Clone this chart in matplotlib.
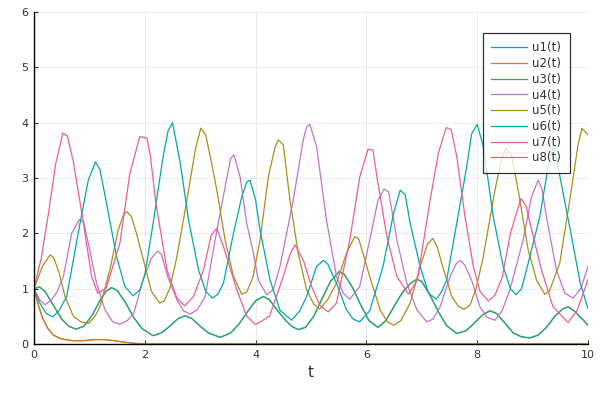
import numpy as np
import matplotlib
matplotlib.use("Agg")
import matplotlib.pyplot as plt

# colours of the Plots.jl default palette
colors = ["#009AFA", "#E36F47", "#3EA44E", "#C371D2",
          "#AC8E18", "#00A9AD", "#ED5E93", "#C68225"]
labels = ["u1(t)", "u2(t)", "u3(t)", "u4(t)", "u5(t)", "u6(t)", "u7(t)", "u8(t)"]

# u1 and u3 coincide (green over blue)
t_u1 = [0, 0.1, 0.2, 0.35, 0.5, 0.63, 0.76, 0.9, 1.05, 1.2, 1.3, 1.4, 1.5, 1.65, 1.8,
        1.95, 2.15, 2.3, 2.45, 2.6, 2.73, 2.85, 3.0, 3.15, 3.36, 3.55, 3.7, 3.85, 4.0,
        4.14, 4.25, 4.4, 4.55, 4.65, 4.77, 4.9, 5.05, 5.2, 5.35, 5.51, 5.6, 5.75, 5.9,
        6.05, 6.21, 6.35, 6.5, 6.65, 6.8, 6.91, 7.0, 7.15, 7.3, 7.45, 7.63, 7.8, 7.95,
        8.1, 8.23, 8.35, 8.5, 8.65, 8.8, 8.95, 9.1, 9.25, 9.4, 9.55, 9.64, 9.75, 9.9, 10]
u1 = [1.0, 1.03, 0.95, 0.7, 0.45, 0.32, 0.27, 0.32, 0.52, 0.8, 0.95, 1.02, 0.97, 0.75, 0.48,
      0.28, 0.15, 0.2, 0.32, 0.46, 0.51, 0.46, 0.32, 0.2, 0.12, 0.2, 0.36, 0.58, 0.78,
      0.86, 0.8, 0.6, 0.42, 0.32, 0.26, 0.3, 0.5, 0.82, 1.13, 1.31, 1.26, 1.02, 0.7,
      0.42, 0.3, 0.42, 0.68, 0.93, 1.1, 1.17, 1.13, 0.88, 0.58, 0.33, 0.19, 0.24, 0.38,
      0.53, 0.6, 0.55, 0.38, 0.2, 0.13, 0.11, 0.16, 0.3, 0.5, 0.64, 0.67, 0.6, 0.45, 0.34]

# u2 and u8 coincide
t_u2 = [0, 0.08, 0.15, 0.25, 0.35, 0.5, 0.7, 0.9, 1.1, 1.25, 1.45, 1.65, 1.85, 2.1, 10]
u2 = [1.0, 0.7, 0.48, 0.28, 0.16, 0.09, 0.06, 0.06, 0.08, 0.08, 0.06, 0.03, 0.01, 0.0, 0.0]

t_u4 = [0, 0.1, 0.2, 0.32, 0.42, 0.53, 0.68, 0.82, 0.9, 0.98, 1.13, 1.28, 1.42, 1.55,
        1.68, 1.8, 1.97, 2.12, 2.23, 2.3, 2.42, 2.58, 2.7, 2.82, 2.95, 3.09, 3.27, 3.45,
        3.55, 3.61, 3.72, 3.84, 3.95, 4.05, 4.2, 4.32, 4.44, 4.68, 4.86, 4.92, 4.98, 5.1,
        5.28, 5.46, 5.58, 5.7, 5.88, 6.06, 6.21, 6.32, 6.4, 6.48, 6.55, 6.73, 6.91, 7.09,
        7.2, 7.33, 7.51, 7.62, 7.7, 7.78, 7.9, 8.05, 8.18, 8.32, 8.45, 8.59, 8.83, 8.98,
        9.1, 9.17, 9.25, 9.43, 9.58, 9.73, 9.87, 10]
u4 = [1.0, 0.8, 0.71, 0.8, 0.95, 1.22, 2.0, 2.25, 2.2, 1.82, 1.1, 0.62, 0.4, 0.36,
      0.42, 0.55, 1.16, 1.55, 1.68, 1.62, 1.2, 0.8, 0.6, 0.54, 0.62, 0.86, 1.88, 2.84,
      3.35, 3.42, 3.02, 2.18, 1.7, 1.15, 0.89, 0.98, 1.4, 2.6, 3.69, 3.92, 3.97, 3.57,
      2.24, 1.22, 0.92, 0.81, 1.04, 1.88, 2.6, 2.8, 2.75, 2.3, 1.88, 1.1, 0.62, 0.4,
      0.45, 0.67, 1.22, 1.45, 1.51, 1.42, 1.15, 0.67, 0.48, 0.43, 0.6, 0.98, 1.88, 2.66,
      2.96, 2.8, 2.3, 1.34, 0.92, 0.83, 1.0, 1.4]

t_u5 = [0, 0.15, 0.29, 0.35, 0.45, 0.56, 0.71, 0.85, 0.98, 1.1, 1.19, 1.37, 1.52, 1.62,
        1.68, 1.76, 1.85, 1.98, 2.12, 2.27, 2.35, 2.45, 2.58, 2.76, 2.91, 3.01, 3.1, 3.2,
        3.3, 3.45, 3.6, 3.75, 3.84, 3.95, 4.08, 4.23, 4.35, 4.41, 4.5, 4.62, 4.77, 4.92,
        5.05, 5.16, 5.3, 5.46, 5.64, 5.79, 5.86, 5.95, 6.06, 6.25, 6.38, 6.49, 6.62, 6.79,
        6.97, 7.1, 7.2, 7.28, 7.36, 7.54, 7.66, 7.76, 7.87, 7.98, 8.11, 8.32, 8.43, 8.52,
        8.62, 8.74, 8.92, 9.07, 9.22, 9.3, 9.49, 9.68, 9.82, 9.89, 10]
u5 = [1.0, 1.4, 1.61, 1.57, 1.3, 0.86, 0.5, 0.4, 0.37, 0.5, 0.67, 1.34, 2.06, 2.35,
      2.39, 2.3, 2.0, 1.5, 0.95, 0.74, 0.78, 1.0, 1.58, 2.6, 3.5, 3.9, 3.78, 3.3,
      2.78, 1.88, 1.22, 0.9, 0.94, 1.2, 1.88, 3.02, 3.55, 3.69, 3.6, 2.6, 1.64, 0.98,
      0.72, 0.63, 0.8, 1.1, 1.64, 1.94, 1.9, 1.6, 1.22, 0.61, 0.4, 0.34, 0.42, 0.74,
      1.4, 1.8, 1.91, 1.75, 1.46, 0.86, 0.68, 0.63, 0.7, 1.0, 1.58, 2.78, 3.3, 3.55,
      3.4, 2.78, 1.7, 1.16, 0.9, 0.95, 1.46, 2.66, 3.6, 3.9, 3.78]

t_u6 = [0, 0.1, 0.22, 0.34, 0.45, 0.59, 0.83, 0.98, 1.11, 1.19, 1.31, 1.49, 1.64, 1.79,
        1.91, 2.0, 2.15, 2.33, 2.42, 2.5, 2.64, 2.79, 2.97, 3.1, 3.22, 3.32, 3.42, 3.6,
        3.75, 3.84, 3.9, 4.0, 4.08, 4.26, 4.44, 4.65, 4.8, 4.92, 5.1, 5.22, 5.3, 5.46,
        5.64, 5.76, 5.88, 6.06, 6.3, 6.49, 6.61, 6.7, 6.79, 6.97, 7.12, 7.26, 7.36, 7.45,
        7.63, 7.81, 7.9, 8.0, 8.11, 8.29, 8.47, 8.6, 8.7, 8.8, 8.89, 9.13, 9.28, 9.38,
        9.46, 9.68, 9.86, 10]
u6 = [1.0, 0.75, 0.55, 0.49, 0.6, 0.86, 2.18, 2.96, 3.29, 3.15, 2.54, 1.58, 1.04, 0.87,
      0.98, 1.25, 2.18, 3.39, 3.85, 4.0, 3.27, 2.24, 1.34, 0.95, 0.83, 0.9, 1.1, 2.0,
      2.66, 2.93, 2.96, 2.6, 2.06, 1.16, 0.61, 0.43, 0.6, 0.86, 1.4, 1.51, 1.45, 1.1,
      0.62, 0.45, 0.4, 0.6, 1.4, 2.36, 2.78, 2.7, 2.18, 1.4, 0.92, 0.81, 0.95, 1.16,
      2.18, 3.2, 3.8, 3.97, 3.57, 2.3, 1.4, 1.0, 0.89, 1.0, 1.34, 2.3, 3.2, 3.6,
      3.2, 2.06, 1.1, 0.64]

t_u7 = [0, 0.13, 0.26, 0.39, 0.52, 0.6, 0.71, 0.89, 1.04, 1.15, 1.3, 1.55, 1.73, 1.91,
        2.04, 2.1, 2.2, 2.4, 2.58, 2.72, 2.88, 3.06, 3.2, 3.3, 3.42, 3.66, 3.84, 4.0,
        4.25, 4.5, 4.62, 4.71, 4.86, 5.01, 5.16, 5.31, 5.46, 5.7, 5.88, 6.03, 6.12, 6.19,
        6.37, 6.55, 6.76, 6.92, 7.15, 7.3, 7.44, 7.53, 7.63, 7.78, 7.93, 8.05, 8.2, 8.32,
        8.45, 8.6, 8.79, 8.88, 8.95, 9.16, 9.37, 9.64, 9.8, 10]
u7 = [1.0, 1.55, 2.35, 3.25, 3.81, 3.76, 3.3, 2.2, 1.22, 0.92, 1.0, 1.82, 3.08, 3.75,
      3.72, 3.4, 2.55, 1.34, 0.83, 0.69, 0.86, 1.34, 1.97, 2.09, 1.76, 0.98, 0.5, 0.35,
      0.5, 1.22, 1.62, 1.79, 1.52, 1.04, 0.7, 0.58, 0.74, 1.88, 3.02, 3.52, 3.5, 3.02,
      1.94, 1.22, 0.9, 1.16, 2.6, 3.45, 3.91, 3.88, 3.39, 2.3, 1.4, 0.95, 0.78, 0.88,
      1.2, 2.0, 2.63, 2.5, 2.2, 1.34, 0.67, 0.39, 0.6, 1.16]

series = [(t_u1, u1), (t_u2, u2), (t_u1, u1), (t_u4, u4),
          (t_u5, u5), (t_u6, u6), (t_u7, u7), (t_u2, u2)]

fig = plt.figure(figsize=(6, 4), dpi=100)
ax = fig.add_axes([34 / 600, 1 - 344 / 400, (588 - 34) / 600, (344 - 12) / 400])

for (t, u), c, lab in zip(series, colors, labels):
    ax.plot(t, u, color=c, lw=0.9, label=lab)

ax.set_xlim(0, 10)
ax.set_ylim(0, 6)
ax.set_xticks([0, 2, 4, 6, 8, 10])
ax.set_yticks([0, 1, 2, 3, 4, 5, 6])
ax.grid(True, color="#000000", alpha=0.1, lw=0.5)
ax.set_axisbelow(True)
for s in ["top", "right"]:
    ax.spines[s].set_visible(False)
for s in ["left", "bottom"]:
    ax.spines[s].set_linewidth(1.0)
ax.tick_params(direction="in", length=3, labelsize=8, colors="#333333", pad=4)
ax.set_xlabel("t", fontsize=11, color="#333333", labelpad=4)

# legend box: pixel extent of the reference frame
leg = ax.legend(loc="upper right", bbox_to_anchor=(570 / 600, 1 - 32.5 / 400),
                bbox_transform=fig.transFigure, fontsize=8.5, handlelength=3.0,
                handletextpad=0.45, frameon=True, fancybox=False, borderpad=0.75,
                labelspacing=0.23, borderaxespad=0)
leg.get_frame().set_edgecolor("black")
leg.get_frame().set_linewidth(0.9)
for txt in leg.get_texts():
    txt.set_color("#333333")

fig.savefig("out.png", dpi=100)
